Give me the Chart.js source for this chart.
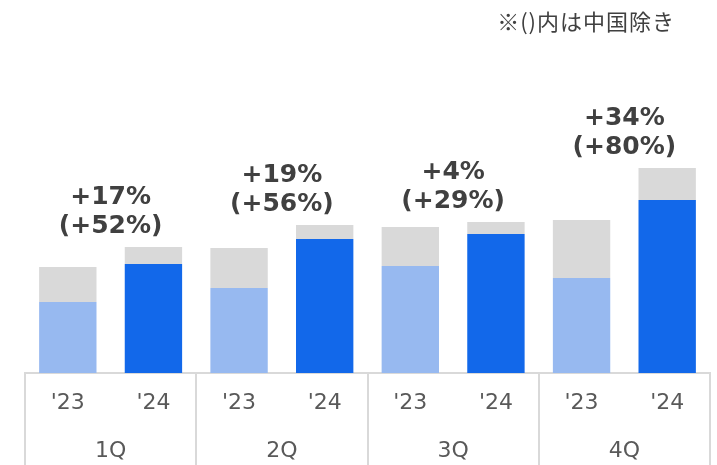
<!DOCTYPE html>
<html>
<head>
<meta charset="utf-8">
<script src="https://cdn.jsdelivr.net/npm/chart.js@4"></script>
<style>
  html, body { margin: 0; padding: 0; background: #fff; }
  #wrap { width: 717px; height: 465px; }
</style>
</head>
<body>
<div id="wrap"><canvas id="chart" width="717" height="465"></canvas></div>
<script>
// data (arbitrary units)
const years = ["'23", "'24", "'23", "'24", "'23", "'24", "'23", "'24"];
const quarters = ["1Q", "2Q", "3Q", "4Q"];
const exChina = [71, 109, 85, 134, 107, 139, 95, 173];
const china = [35, 17, 40, 14, 39, 12, 58, 32];
const totalGrowth = ["+17%", "+19%", "+4%", "+34%"];
const exChinaGrowth = ["(+52%)", "(+56%)", "(+29%)", "(+80%)"];
const note = "※()内は中国除き";

const LATIN = "'DejaVu Sans', Verdana, sans-serif";
const LINE = "#d9d9d9";

// vertical lines between the quarters, below the axis
const separators = {
  id: "separators",
  afterDraw(chart) {
    const { ctx, chartArea } = chart;
    const x = chart.scales.x;
    const step = x.getPixelForValue(1) - x.getPixelForValue(0);
    ctx.save();
    ctx.strokeStyle = LINE;
    ctx.lineWidth = 2;
    for (let i = 0; i <= years.length; i += 2) {
      const px = Math.round(x.getPixelForValue(i) - step / 2);
      ctx.beginPath();
      ctx.moveTo(px, chartArea.bottom);
      ctx.lineTo(px, chart.height);
      ctx.stroke();
    }
    ctx.restore();
  },
};

// growth labels over each '24 bar and the note at top right
const labels = {
  id: "labels",
  afterDatasetsDraw(chart) {
    const { ctx } = chart;
    const x2 = chart.scales.x2;
    const top = chart.getDatasetMeta(1).data;
    ctx.save();
    ctx.fillStyle = "#404040";
    ctx.textAlign = "center";
    ctx.textBaseline = "alphabetic";
    ctx.font = "bold 25px " + LATIN;
    quarters.forEach((q, i) => {
      const cx = x2.getPixelForValue(i);
      const y = top[i * 2 + 1].y - 14;
      ctx.fillText(exChinaGrowth[i], cx, y);
      ctx.fillText(totalGrowth[i], cx, y - 29);
    });
    ctx.font = "22px 'Noto Sans CJK JP', sans-serif";
    ctx.letterSpacing = "1px";
    ctx.textAlign = "right";
    ctx.textBaseline = "middle";
    ctx.fillText(note, 675, 22);
    ctx.restore();
  },
};

new Chart(document.getElementById("chart"), {
  type: "bar",
  data: {
    labels: years,
    datasets: [
      {
        label: "中国除き",
        data: exChina,
        backgroundColor: years.map((y) => (y === "'23" ? "#97b9f0" : "#1268ea")),
        xAxisID: "x",
      },
      {
        label: "中国",
        data: china,
        backgroundColor: "#d9d9d9",
        xAxisID: "x",
      },
    ],
  },
  options: {
    responsive: false,
    animation: false,
    layout: { padding: { top: 73, left: 25, right: 7, bottom: 0 } },
    datasets: { bar: { barPercentage: 0.67, categoryPercentage: 1, borderWidth: 0 } },
    plugins: { legend: { display: false }, tooltip: { enabled: false } },
    scales: {
      x: {
        stacked: true,
        grid: { display: false },
        border: { display: true, color: LINE, width: 2 },
        ticks: { color: "#595959", font: { family: LATIN, size: 22 }, padding: 9 },
        afterFit: (s) => { s.height = 46; },
      },
      x2: {
        type: "category",
        labels: quarters,
        position: "bottom",
        offset: true,
        grid: { display: false },
        border: { display: false },
        ticks: { color: "#595959", font: { family: LATIN, size: 22 }, padding: 11 },
        afterFit: (s) => { s.height = 46; },
      },
      y: {
        stacked: true,
        display: false,
        min: 0,
        max: 300,
      },
    },
  },
  plugins: [separators, labels],
});
</script>
</body>
</html>
